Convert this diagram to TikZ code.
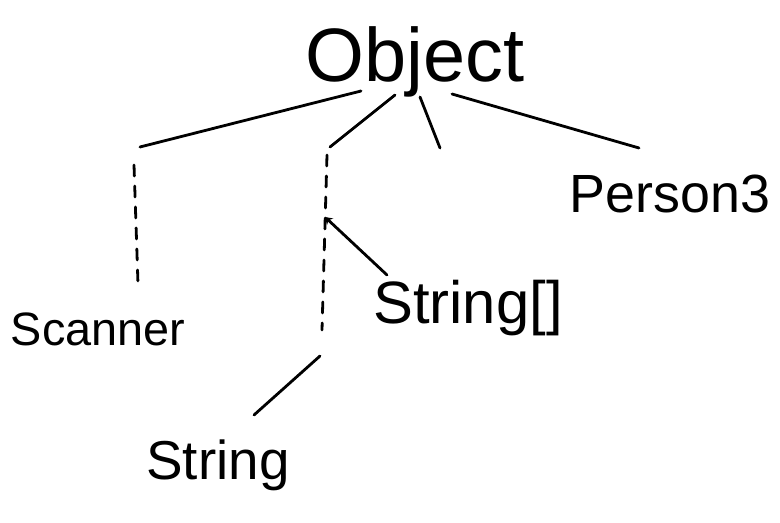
\documentclass[tikz,border=0pt]{standalone}
\usepackage{fontspec}
\setmainfont{Liberation Sans}
\usetikzlibrary{arrows.meta}

\begin{document}
\begin{tikzpicture}[x=1bp,y=-1bp,line width=2.8bp,line cap=round,
    every node/.style={inner sep=0pt,anchor=base},
    word/.style={font=\fontsize{#1}{#1}\selectfont},
    gap/.style={dash pattern=on 11bp off 10bp},
    >={Stealth[width=9bp,length=7bp]}]
  \useasboundingbox(0,0)rectangle(780,523);
  % words
  \node[word=76](object)at(415,82){Object};
  \node[word=47](scanner)at(98,345){Scanner};
  \node[word=55](string)at(218,479){String};
  \node[word=60](strarr)at(468,323){String[]};
  \node[word=54](person)at(670,213){Person3};
  % end points
  \coordinate(o1)at(361,91);\coordinate(l1)at(140,147);
  \coordinate(l2)at(134,165);\coordinate(l3)at(138,284);
  \coordinate(o2)at(395,95);\coordinate(m1)at(330,147);
  \coordinate(m2)at(327,155);\coordinate(m3)at(322,330);
  \coordinate(m4)at(320,356);\coordinate(m5)at(254,415);
  \coordinate(mj)at(325,217);\coordinate(a1)at(387,275);
  \coordinate(o3)at(420,97);\coordinate(s1)at(440,148);
  \coordinate(o4)at(452,94);\coordinate(r1)at(639,148);
  % lines
  \draw(o1)--(l1)(o2)--(m1)(o3)--(s1)(o4)--(r1);
  \draw[gap](l2)--(l3)(m2)--(m3);
  \draw(m4)--(m5);
  \draw[->](a1)--(mj);
\end{tikzpicture}
\end{document}
